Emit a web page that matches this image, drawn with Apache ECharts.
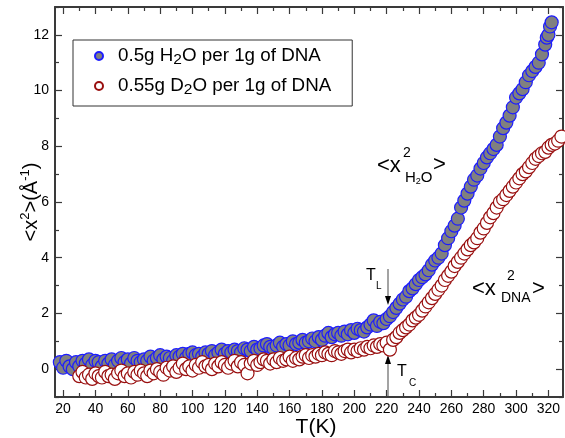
<!DOCTYPE html>
<html><head><meta charset="utf-8">
<script src="https://cdn.jsdelivr.net/npm/echarts@6/dist/echarts.min.js"></script>
<style>html,body{margin:0;padding:0;background:#fff}#c{width:565px;height:438px}</style>
</head><body><div id="c"></div>
<script>
// ---- data ----
const tH2O = [18,20,22,24,26,28,30,32,34,36,38,40,42,44,46,48,50,52,54,56,58,60,62,64,66,68,70,72,74,76,78,80,82,84,86,88,90,92,94,96,98,100,102,104,106,108,110,112,114,116,118,120,122,124,126,128,130,132,134,136,138,140,142,144,146,148,150,152,154,156,158,160,162,164,166,168,170,172,174,176,178,180,182,184,186,188,190,192,194,196,198,200,202,204,206,208,210,212,214,216,218,220,222,224,226,228,230,232,234,236,238,240,242,244,246,248,250,252,254,256,258,260,262,264,266,268,270,272,274,276,278,280,282,284,286,288,290,292,294,296,298,300,302,304,306,308,310,312,314,316,318,319,320,321,322];
const xH2O = [0.25,0.05,0.3,0.1,0.0,0.25,0.1,0.3,0.2,0.35,0.15,0.3,0.25,0.1,0.3,0.2,0.35,0.15,0.3,0.4,0.25,0.35,0.2,0.4,0.3,0.25,0.35,0.3,0.45,0.3,0.4,0.5,0.35,0.45,0.4,0.3,0.5,0.45,0.55,0.4,0.55,0.6,0.5,0.55,0.45,0.6,0.55,0.65,0.5,0.6,0.7,0.55,0.65,0.6,0.7,0.65,0.6,0.75,0.7,0.65,0.8,0.7,0.75,0.85,0.9,0.8,0.75,0.85,0.95,0.8,0.9,0.85,1.0,0.9,0.95,1.05,0.95,1.0,1.1,1.0,1.15,1.05,1.2,1.3,1.15,1.25,1.3,1.2,1.35,1.25,1.4,1.3,1.45,1.4,1.35,1.5,1.6,1.75,1.55,1.7,1.65,1.8,1.9,2.05,2.2,2.35,2.5,2.6,2.8,2.9,3.05,3.2,3.3,3.4,3.55,3.75,3.9,4.0,4.15,4.45,4.7,4.95,5.15,5.4,5.8,6.05,6.3,6.55,6.8,6.95,7.2,7.4,7.6,7.75,7.9,8.05,8.35,8.65,8.85,9.1,9.4,9.75,9.9,10.05,10.3,10.55,10.7,10.85,11.0,11.3,11.65,11.9,12.0,12.3,12.45];
const tD2O = [30,32,34,36,38,40,42,44,46,48,50,52,54,56,58,60,62,64,66,68,70,72,74,76,78,80,82,84,86,88,90,92,94,96,98,100,102,104,106,108,110,112,114,116,118,120,122,124,126,128,130,132,134,136,138,140,142,144,146,148,150,152,154,156,158,160,162,164,166,168,170,172,174,176,178,180,182,184,186,188,190,192,194,196,198,200,202,204,206,208,210,212,214,216,218,220,222,224,226,228,230,232,234,236,238,240,242,244,246,248,250,252,254,256,258,260,262,264,266,268,270,272,274,276,278,280,282,284,286,288,290,292,294,296,298,300,302,304,306,308,310,312,314,316,318,320,322,324,326,328];
const xD2O = [-0.25,-0.1,-0.3,-0.2,-0.35,-0.15,-0.25,-0.3,-0.1,-0.25,-0.2,-0.35,-0.15,-0.05,-0.25,-0.15,-0.3,-0.1,-0.2,-0.05,-0.15,-0.25,-0.05,-0.15,0.0,-0.1,-0.2,0.05,-0.05,0.1,-0.1,0.05,0.2,0.0,0.1,-0.05,0.15,0.05,0.25,0.1,0.15,0.0,0.2,0.1,0.25,0.15,0.05,0.2,0.3,0.1,0.25,0.15,-0.15,0.2,0.3,0.15,0.25,0.35,0.3,0.2,0.35,0.25,0.4,0.3,0.35,0.45,0.3,0.4,0.35,0.45,0.5,0.4,0.5,0.45,0.55,0.5,0.6,0.55,0.5,0.65,0.6,0.55,0.65,0.7,0.6,0.7,0.65,0.75,0.7,0.8,0.75,0.85,0.8,0.9,0.85,0.95,0.7,1.05,1.15,1.3,1.4,1.5,1.6,1.75,1.85,1.95,2.1,2.25,2.4,2.55,2.7,2.85,3.0,3.2,3.35,3.5,3.7,3.85,4.0,4.15,4.3,4.45,4.55,4.7,4.9,5.05,5.25,5.45,5.6,5.8,6.0,6.1,6.25,6.4,6.55,6.7,6.85,7.0,7.1,7.25,7.4,7.55,7.65,7.75,7.8,7.95,8.05,8.1,8.2,8.35];
const xMajor = [20,40,60,80,100,120,140,160,180,200,220,240,260,280,300,320];
const xMinor = [30,50,70,90,110,130,150,170,190,210,230,250,270,290,310];
const yMajor = [0,2,4,6,8,10,12];
const yMinor = [-1,1,3,5,7,9,11,13];
const seriesNames = ['0.5g H{sub|2}O per 1g of DNA', '0.55g D{sub|2}O per 1g of DNA'];

const FONT = 'Liberation Sans, Arial, sans-serif';
const AX = '#3a3a3a';
const pairs = (t, v) => t.map((x, i) => [x, v[i]]);

function xAx(pos, major, name) {
  return {
    type: 'value', min: 15, max: 329, position: pos,
    axisLine: {show: major, onZero: false, lineStyle: {color: AX, width: 2}},
    axisTick: {show: true, inside: true, length: major ? 7 : 4, customValues: major ? xMajor : xMinor, lineStyle: {color: AX, width: 1.2}},
    axisLabel: {show: major && pos === 'bottom', customValues: xMajor, color: '#000', fontSize: 14, fontFamily: FONT, margin: 5},
    splitLine: {show: false},
    name: name || '', nameLocation: 'middle', nameGap: 20, nameMoveOverlap: false,
    nameTextStyle: {fontSize: 21, fontFamily: FONT, color: '#000', padding: [0, 0, 0, 14]}
  };
}
function yAx(pos, major, name) {
  return {
    type: 'value', min: -1, max: 13, position: pos,
    axisLine: {show: major, onZero: false, lineStyle: {color: AX, width: 2}},
    axisTick: {show: true, inside: true, length: major ? 7 : 4, customValues: major ? yMajor : yMinor, lineStyle: {color: AX, width: 1.2}},
    axisLabel: {show: major && pos === 'left', customValues: yMajor, color: '#000', fontSize: 14, fontFamily: FONT, margin: 6},
    splitLine: {show: false},
    name: name || '', nameLocation: 'middle', nameGap: 12, nameRotate: 90, nameMoveOverlap: false,
    nameTextStyle: {fontSize: 20, fontFamily: FONT, color: '#000', lineHeight: 24,
      rich: {sup: {fontSize: 13, fontFamily: FONT, color: '#000', padding: [0, 0, 12, 0], lineHeight: 24}}}
  };
}

function txt(x, y, text, size, extra) {
  return Object.assign({type: 'text', x: x, y: y, silent: true,
    style: {text: text, font: size + 'px ' + FONT, fill: '#000', textAlign: 'left', textVerticalAlign: 'middle', align: 'left', verticalAlign: 'middle'}}, extra || {});
}

const chart = echarts.init(document.getElementById('c'), null, {renderer: 'canvas'});
chart.setOption({
  animation: false,
  backgroundColor: '#fff',
  grid: {left: 55, right: 2, top: 7, bottom: 41, containLabel: false, outerBoundsMode: 'none'},
  xAxis: [xAx('bottom', true, 'T(K)'), xAx('bottom', false), xAx('top', true), xAx('top', false)],
  yAxis: [yAx('left', true, '<x{sup|2}>(Å{sup|-1})'), yAx('left', false), yAx('right', true), yAx('right', false)],
  legend: {
    left: 73, top: 40, orient: 'vertical',
    data: [{name: seriesNames[0], icon: 'circle'}, {name: seriesNames[1], icon: 'circle'}],
    itemWidth: 28, itemHeight: 8, itemGap: 6,
    padding: [4, 21, 8, 21],
    borderColor: '#333', borderWidth: 1,
    textStyle: {fontSize: 18.8, fontFamily: FONT, color: '#000', lineHeight: 22,
      rich: {sub: {fontSize: 15.5, fontFamily: FONT, color: '#000', padding: [8, 0, 0, 0], lineHeight: 22}}}
  },
  series: [
    {name: seriesNames[0], type: 'scatter', xAxisIndex: 0, yAxisIndex: 0, symbol: 'circle', symbolSize: 13,
      itemStyle: {color: '#808080', borderColor: '#1c1cff', borderWidth: 1.2, opacity: 1},
      data: pairs(tH2O, xH2O)},
    {name: seriesNames[1], type: 'scatter', xAxisIndex: 0, yAxisIndex: 0, symbol: 'circle', symbolSize: 13,
      itemStyle: {color: '#ffffff', borderColor: '#990f0f', borderWidth: 1.2, opacity: 1},
      data: pairs(tD2O, xD2O)}
  ],
  graphic: [
    // <x^2_{H2O}>
    txt(377, 166, '<x', 22),
    txt(403, 153, '2', 14),
    txt(405, 178, 'H{s|2}O', 15, {style: {text: 'H{s|2}O', font: '15px ' + FONT, fill: '#000', textAlign: 'left', textVerticalAlign: 'middle', align: 'left', verticalAlign: 'middle', lineHeight: 18, rich: {s: {fontSize: 9, fontFamily: FONT, fill: '#000', padding: [8, 0, 0, 0], lineHeight: 18}}}}),
    txt(433, 165, '>', 22),
    // <x^2_{DNA}>
    txt(472, 289, '<x', 22),
    txt(507, 276, '2', 14),
    txt(501, 298, 'DNA', 14),
    txt(532, 289, '>', 22),
    // T_L
    txt(366, 276, 'T', 16),
    txt(376, 286, 'L', 10),
    {type: 'line', silent: true, shape: {x1: 388, y1: 269, x2: 388, y2: 298}, style: {stroke: '#666', lineWidth: 1.2}},
    {type: 'polygon', silent: true, shape: {points: [[385, 296], [391, 296], [388, 305]]}, style: {fill: '#000'}},
    // T_C
    txt(397, 372, 'T', 16),
    txt(409, 383, 'C', 10),
    {type: 'line', silent: true, shape: {x1: 388, y1: 396, x2: 388, y2: 362}, style: {stroke: '#666', lineWidth: 1.2}},
    {type: 'polygon', silent: true, shape: {points: [[385, 364], [391, 364], [388, 355]]}, style: {fill: '#000'}}
  ]
});
</script>
</body></html>
